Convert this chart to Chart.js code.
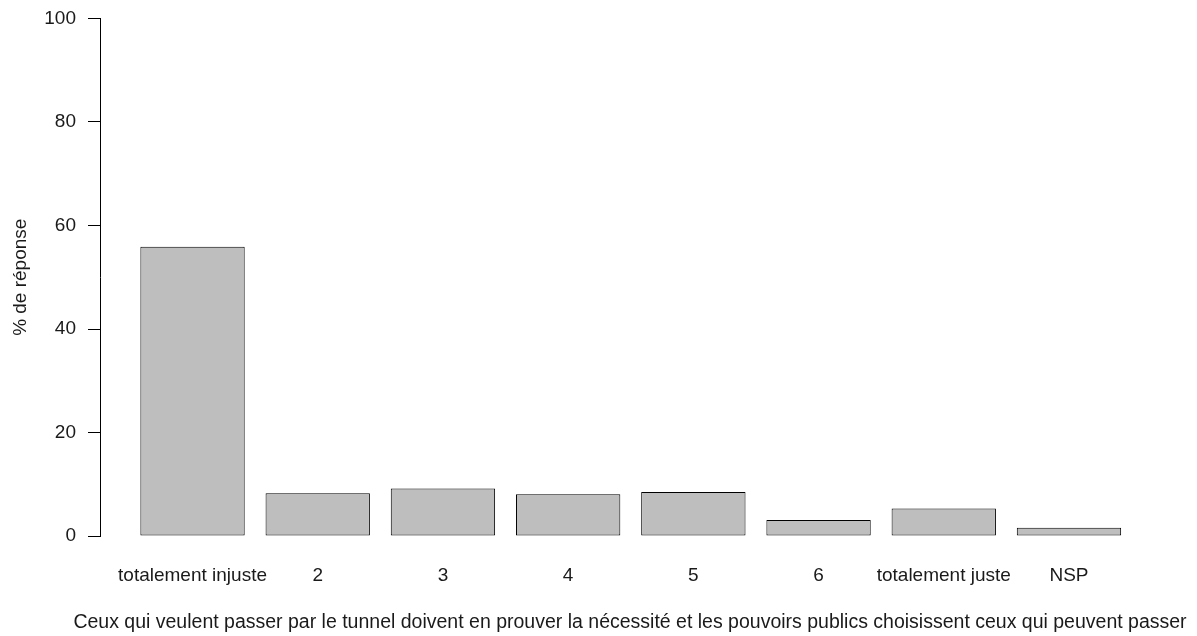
<!DOCTYPE html>
<html>
<head>
<meta charset="utf-8">
<script src="https://cdn.jsdelivr.net/npm/chart.js@4"></script>
<style>
  html, body { margin: 0; padding: 0; background: #fff; }
  #wrap { width: 1197px; height: 636px; }
</style>
</head>
<body>
<div id="wrap"><canvas id="barChart" width="1197" height="636"></canvas></div>
<script>
// Data
const categories = ['totalement injuste', '2', '3', '4', '5', '6', 'totalement juste', 'NSP'];
const percents = [55.9, 8.25, 9.2, 8.05, 8.5, 3.1, 5.3, 1.6];
const yTicks = [0, 20, 40, 60, 80, 100];
const xTitle = 'Ceux qui veulent passer par le tunnel doivent en prouver la nécessité et les pouvoirs publics choisissent ceux qui peuvent passer';
const yTitle = '% de réponse';

const FONT = { family: '"Liberation Sans", Arial, sans-serif', size: 19 };
const TEXT = '#1a1a1a';

// bars placed at positions 1..8 on a linear axis (like R barplot spacing)
const points = percents.map((v, i) => ({ x: i + 1, y: v }));

// the scale title gets squeezed to the plot width, so draw the long x label ourselves
const xLabelPlugin = {
    id: 'xLabel',
    afterDraw(chart) {
        const { ctx, chartArea } = chart;
        ctx.save();
        ctx.font = '19.5px "Liberation Sans", Arial, sans-serif';
        ctx.fillStyle = TEXT;
        ctx.textAlign = 'center';
        ctx.textBaseline = 'alphabetic';
        ctx.fillText(xTitle, (chartArea.left + chartArea.right) / 2, chartArea.bottom + 92);
        ctx.restore();
    }
};

const ctx = document.getElementById('barChart').getContext('2d');
const barChart = new Chart(ctx, {
    type: 'bar',
    data: {
        datasets: [{
            label: 'réponses',
            data: points,
            backgroundColor: '#bebebe',
            borderColor: '#000',
            borderWidth: 1,
            borderSkipped: false,
            barPercentage: 1,
            categoryPercentage: 1 / 1.2
        }]
    },
    options: {
        responsive: false,
        animation: false,
        layout: { padding: { top: 18.5, right: 37, bottom: 0, left: 0 } },
        plugins: {
            legend: { display: false },
            tooltip: { enabled: false }
        },
        scales: {
            x: {
                type: 'linear',
                offset: false,
                min: 0.261,
                max: 8.727,
                grid: { display: false, drawTicks: false, offset: false },
                border: { display: false },
                afterBuildTicks: (scale) => {
                    scale.ticks = categories.map((c, i) => ({ value: i + 1 }));
                },
                afterFit: (scale) => { scale.height = 100; },
                ticks: {
                    autoSkip: false,
                    maxRotation: 0,
                    padding: 28.5,
                    color: TEXT,
                    font: FONT,
                    callback: (v) => categories[v - 1]
                }
            },
            y: {
                min: 0,
                max: 100,
                afterBuildTicks: (scale) => {
                    scale.ticks = yTicks.map(v => ({ value: v }));
                },
                afterFit: (scale) => {
                    scale.width = 100;
                    scale.paddingTop = 0;
                    scale.paddingBottom = 0;
                },
                grid: {
                    drawOnChartArea: false,
                    drawTicks: true,
                    tickLength: 12,
                    color: '#000',
                    lineWidth: 1
                },
                border: { display: true, color: '#000', width: 1 },
                ticks: {
                    padding: 12,
                    color: TEXT,
                    font: FONT
                },
                title: {
                    display: true,
                    text: yTitle,
                    color: TEXT,
                    font: FONT,
                    padding: { top: 9.5, bottom: 0 }
                }
            }
        }
    },
    plugins: [xLabelPlugin]
});
</script>
</body>
</html>
